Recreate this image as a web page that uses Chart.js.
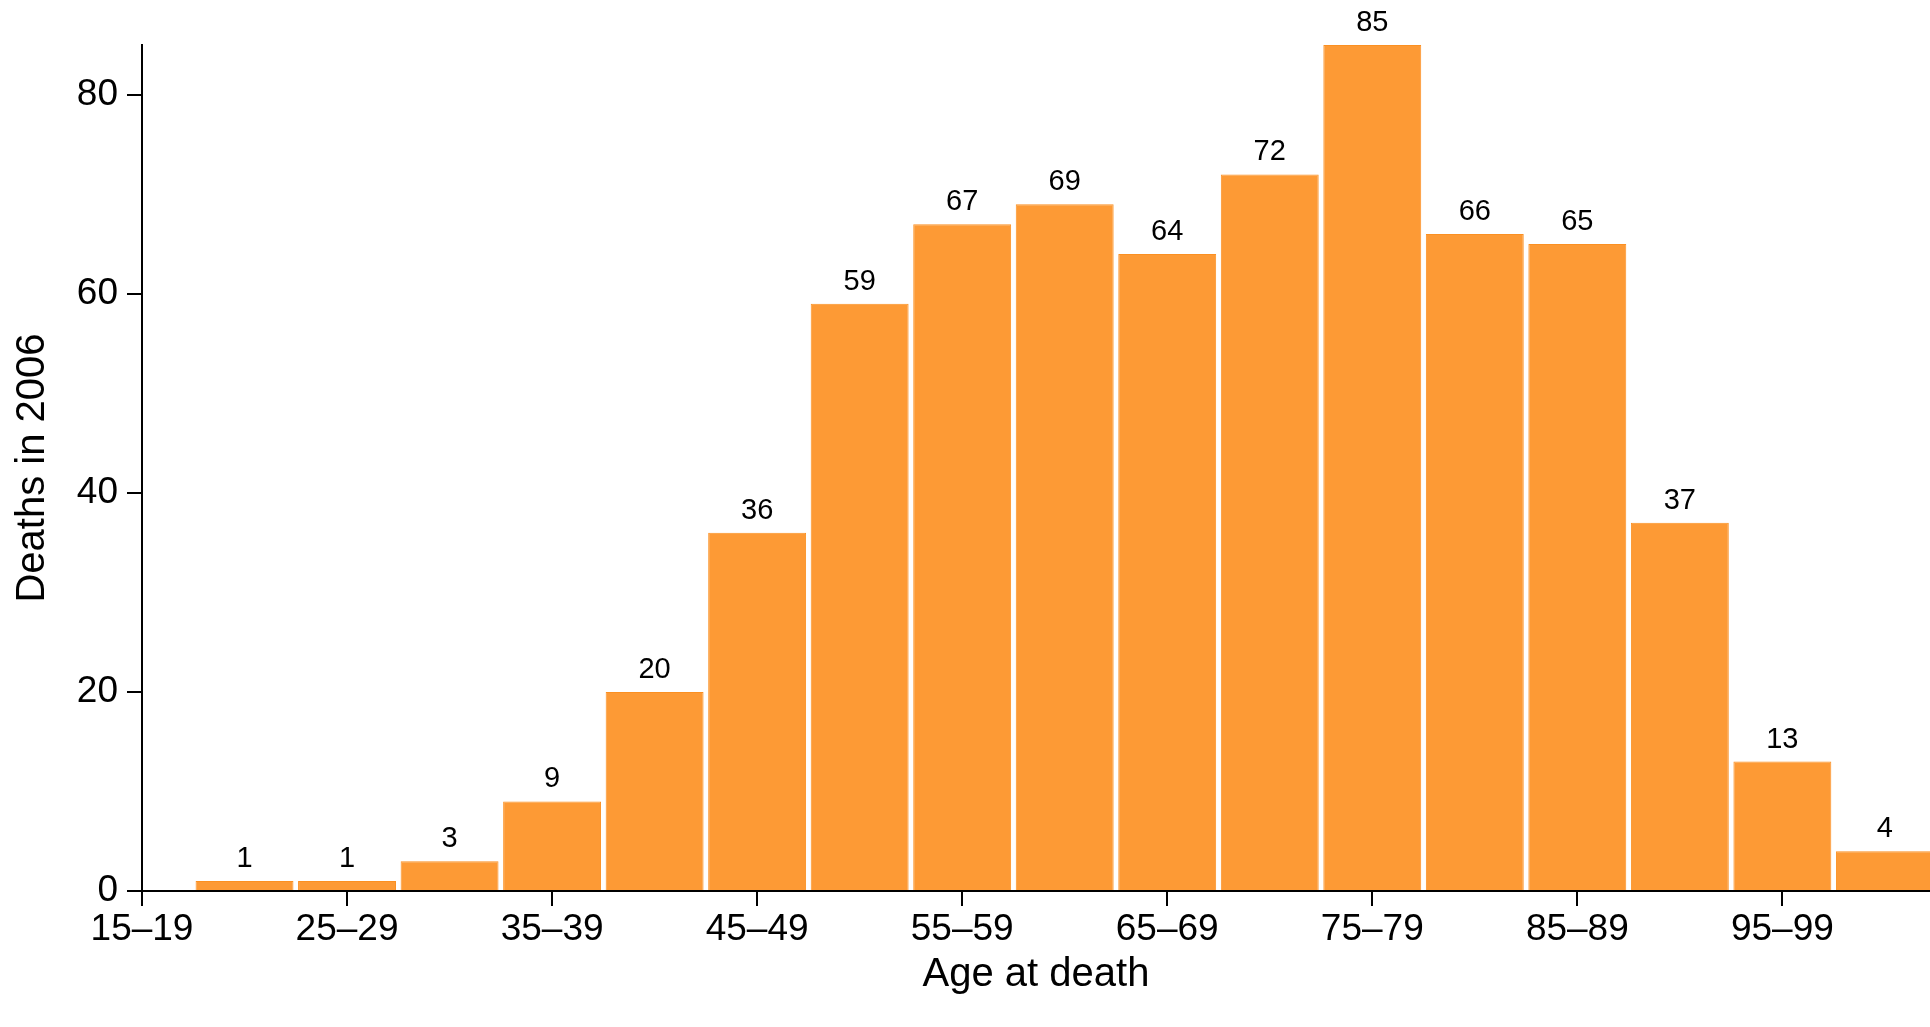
<!DOCTYPE html>
<html>
<head>
<meta charset="utf-8">
<title>Deaths in 2006 by age at death</title>
<script src="https://cdn.jsdelivr.net/npm/chart.js@4"></script>
<style>
  html, body { margin: 0; padding: 0; background: #fff; }
  #wrap { width: 1930px; height: 1027px; position: relative; }
</style>
</head>
<body>
<div id="wrap"><canvas id="chart"></canvas></div>
<script>
// Age groups (one per bar slot) and deaths recorded in 2006
const ageGroups = [
    '15–19', '20–24', '25–29', '30–34', '35–39', '40–44', '45–49', '50–54', '55–59',
    '60–64', '65–69', '70–74', '75–79', '80–84', '85–89', '90–94', '95–99', '100+'
];
const deaths = [0, 1, 1, 3, 9, 20, 36, 59, 67, 69, 64, 72, 85, 66, 65, 37, 13, 4];
const yTicks = [0, 20, 40, 60, 80];

const barFill = '#fd9a35';
const barEdge = '#fb9022';
const font = 'Liberation Sans, Arial, Helvetica, sans-serif';

// count labels above each bar
const barLabels = {
    id: 'barLabels',
    afterDatasetsDraw(chart) {
        const ctx = chart.ctx;
        const meta = chart.getDatasetMeta(0);
        ctx.save();
        ctx.fillStyle = '#000';
        ctx.font = '29px ' + font;
        ctx.textAlign = 'center';
        ctx.textBaseline = 'alphabetic';
        meta.data.forEach((bar, i) => {
            const v = deaths[i];
            if (!v) return;
            ctx.fillText(String(v), bar.x, bar.y - 14);
        });
        ctx.restore();
    }
};

new Chart(document.getElementById('chart'), {
    type: 'bar',
    data: {
        datasets: [{
            data: deaths.map((v, i) => ({ x: i, y: v })),
            backgroundColor: barFill,
            borderColor: barEdge,
            borderWidth: 1,
            borderSkipped: 'start',
            categoryPercentage: 1,
            barPercentage: 0.955
        }]
    },
    options: {
        responsive: true,
        maintainAspectRatio: false,
        animation: false,
        layout: { padding: { top: 45, right: 0, bottom: 0, left: 0 } },
        plugins: {
            legend: { display: false },
            tooltip: { enabled: false }
        },
        scales: {
            x: {
                type: 'linear',
                min: 0,
                max: 17.44,
                offset: false,
                grid: { offset: false, drawOnChartArea: false, tickLength: 15, color: '#000', lineWidth: 2 },
                border: { display: true, color: '#000', width: 2 },
                ticks: {
                    stepSize: 2,
                    includeBounds: false,
                    maxRotation: 0,
                    autoSkip: false,
                    padding: 2,
                    color: '#000',
                    font: { family: font, size: 37 },
                    callback: v => ageGroups[v]
                },
                title: {
                    display: true,
                    text: 'Age at death',
                    color: '#000',
                    font: { family: font, size: 40 },
                    padding: { top: 0, bottom: 28 }
                },
                afterFit: s => { s.height = 136; }
            },
            y: {
                min: 0,
                max: 85,
                grid: { drawOnChartArea: false, tickLength: 15, color: '#000', lineWidth: 2 },
                border: { display: true, color: '#000', width: 2 },
                afterBuildTicks: s => { s.ticks = yTicks.map(v => ({ value: v })); },
                ticks: {
                    padding: 9,
                    color: '#000',
                    font: { family: font, size: 37 }
                },
                title: {
                    display: true,
                    text: 'Deaths in 2006',
                    color: '#000',
                    font: { family: font, size: 40 },
                    padding: { top: 9, bottom: 0 }
                },
                afterFit: s => { s.width = 142; }
            }
        }
    },
    plugins: [barLabels]
});
</script>
</body>
</html>
